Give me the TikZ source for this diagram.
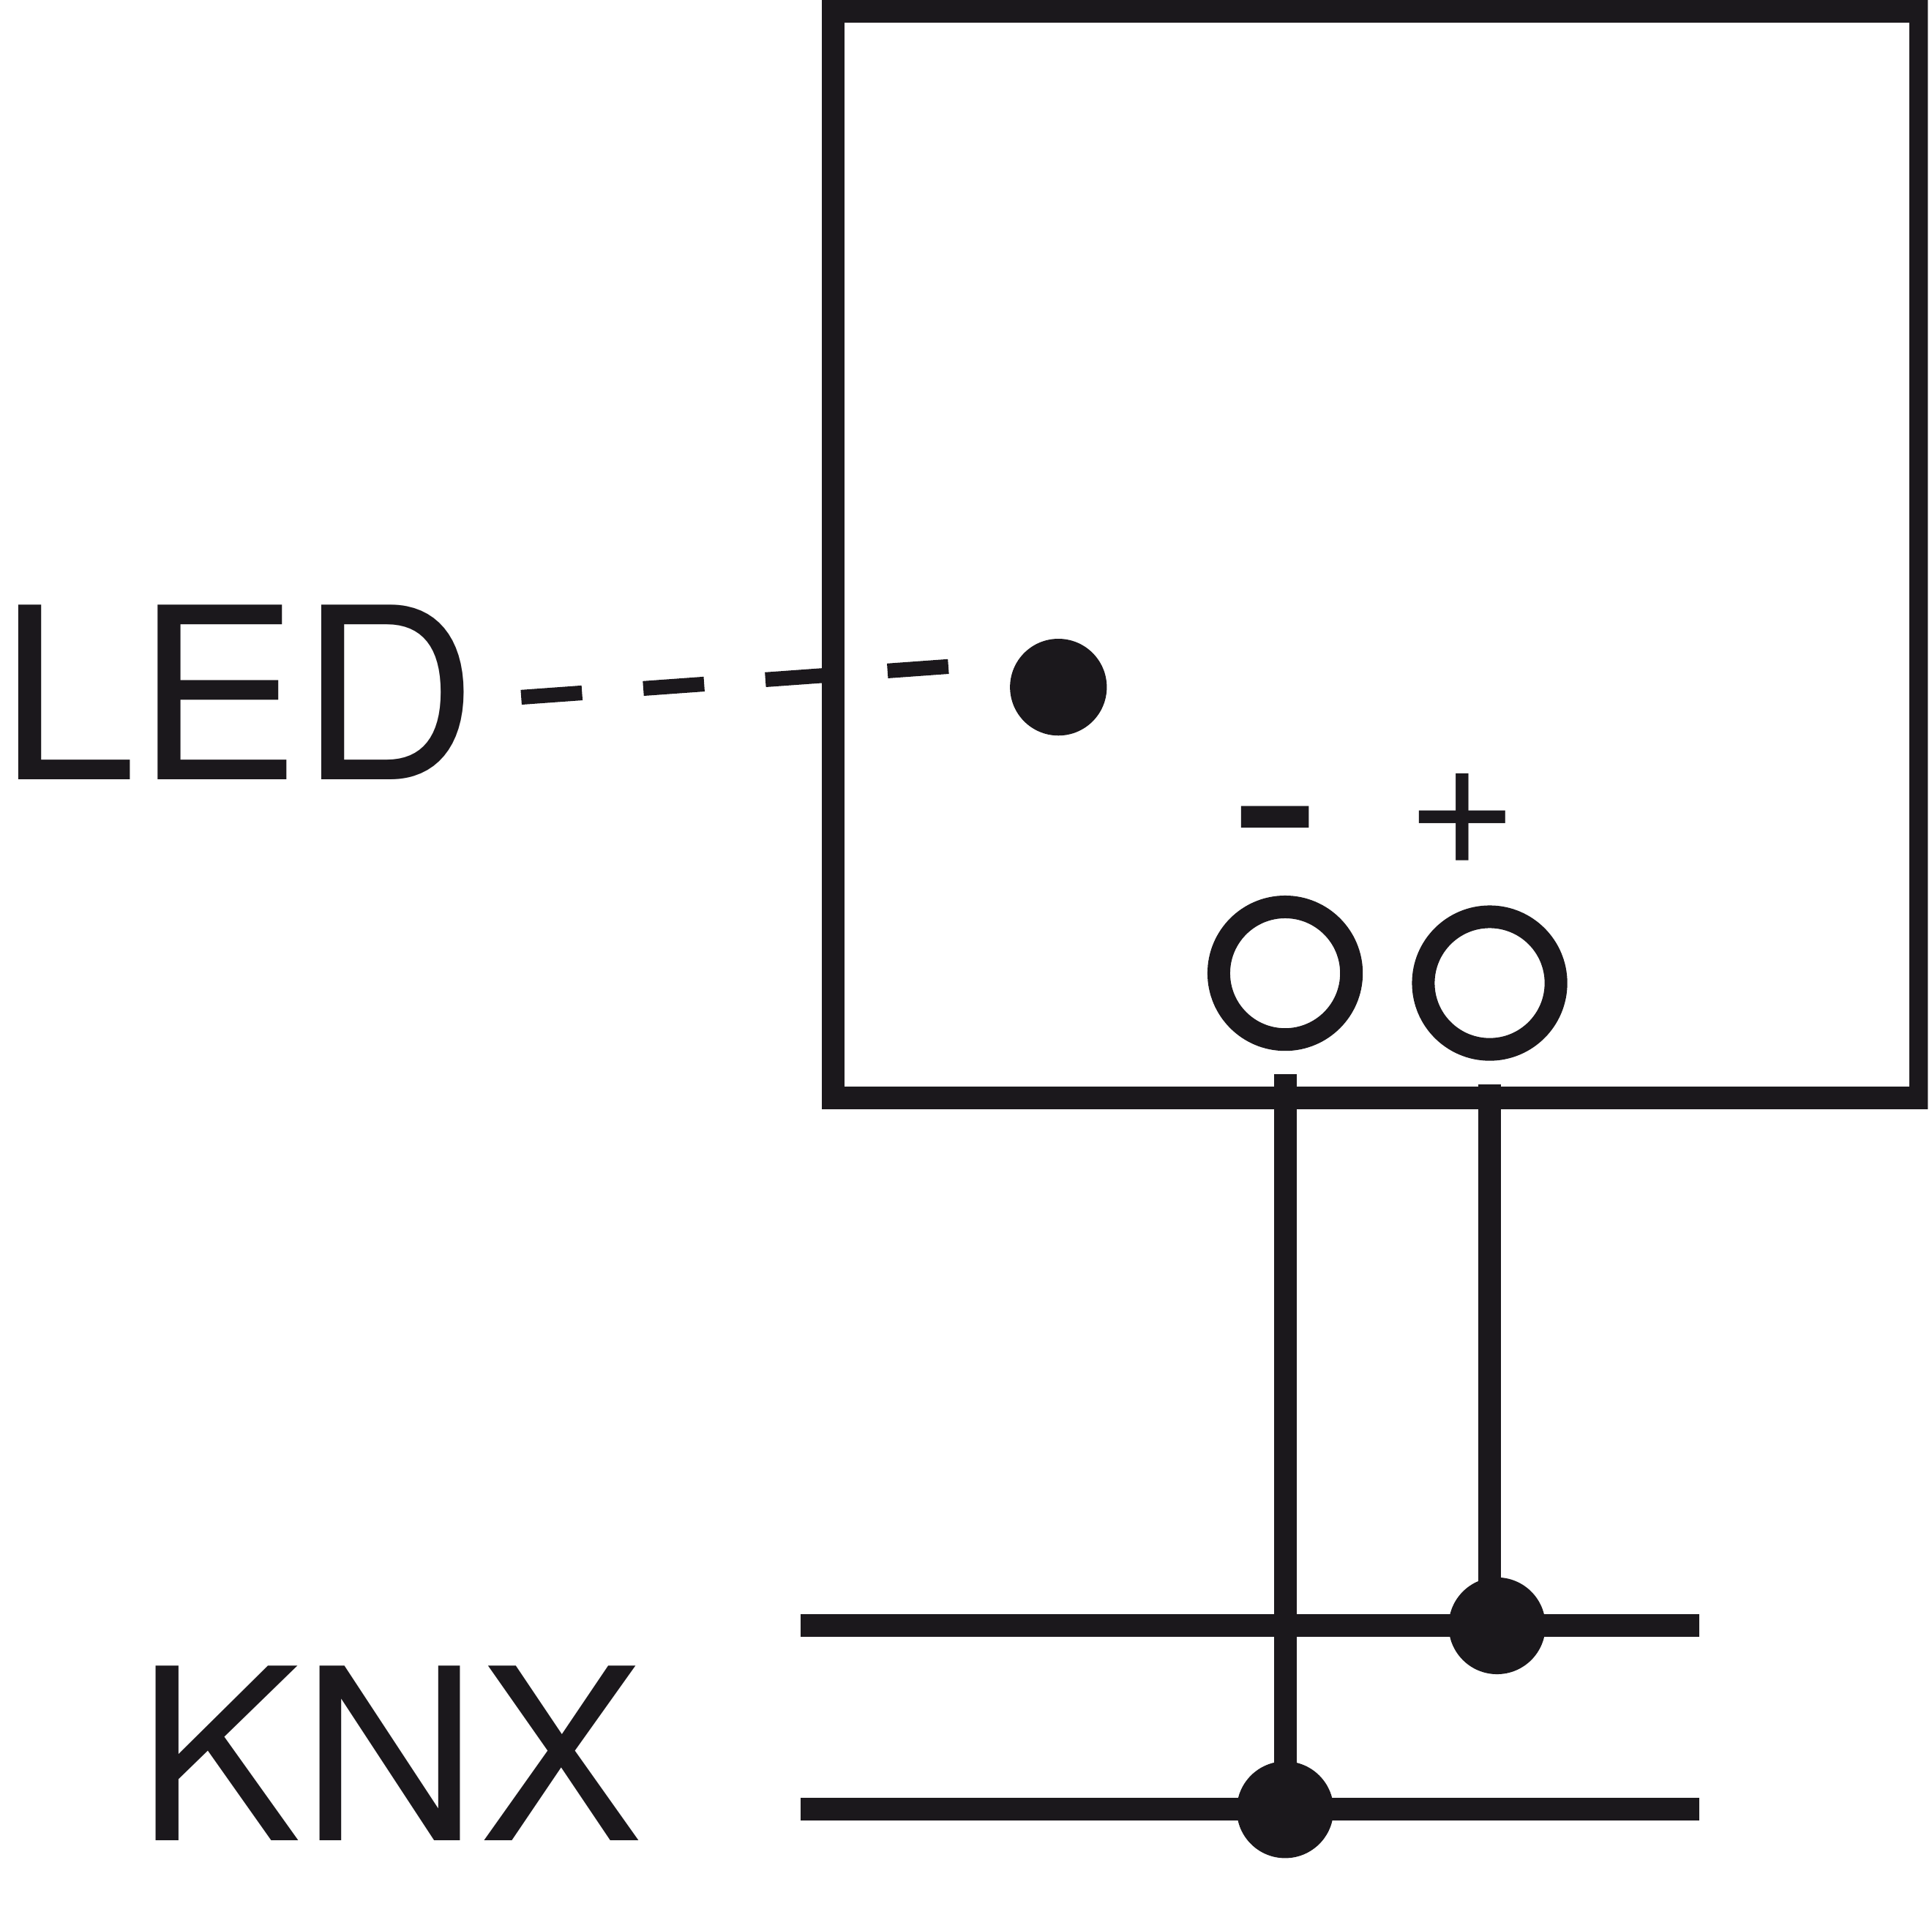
\documentclass[tikz,border=0pt]{standalone}
\usepackage{fontspec}
\setmainfont[FakeStretch=1.028]{TeX Gyre Heros}
\newfontfamily\signfont{Liberation Sans}
\definecolor{ink}{HTML}{1B181C}
\tikzset{
  x=0.01cm,y=-0.01cm,
  wire/.style={draw=ink,line width=0.184cm},
  thin wire/.style={draw=ink,line width=0.12cm},
  dot/.style={circle,fill=ink,minimum size=0.785cm,inner sep=0pt,outer sep=0pt},
  port/.style={circle,draw=ink,fill=white,line width=0.184cm,minimum size=1.076cm,inner sep=0pt,outer sep=0pt},
  lbl/.style={text=ink,inner sep=0pt,outer sep=0pt,anchor=base west,font=\fontsize{55.3pt}{60pt}\selectfont},
}
\begin{document}
\begin{tikzpicture}
\useasboundingbox (0,0) rectangle (1568,1558);
\begin{scope}
\clip (0,0) rectangle (1564.6,1558);
\draw[wire,miter limit=10] (676.4,9.2) rectangle (1558.6,891.5);
\end{scope}
\node[lbl] (led) at (-1,632.8) {LED};
\node[lbl] (knx) at (111,1493.8) {KNX};
\node[dot] (leddot) at (859,557.8) {};
\coordinate (ledA) at (423,566);
\coordinate (ledB) at (770,541);
\draw[thin wire,dash pattern=on 0.495cm off 0.498cm] (ledA) -- (ledB);
\node[lbl,font=\signfont\fontsize{64pt}{66pt}\selectfont] (minus) at (997.7,723.4) {-};
\node[lbl,font=\signfont\fontsize{41pt}{50pt}\selectfont] (plus) at (1145.1,711.4) {+};
\node[port] (p1) at (1043,790) {};
\node[port] (p2) at (1209,798) {};
\coordinate (b1a) at (650,1319.6);
\coordinate (b1b) at (1379,1319.6);
\coordinate (b2a) at (650,1468.6);
\coordinate (b2b) at (1379,1468.6);
\draw[wire] (b1a) -- (b1b);
\draw[wire] (b2a) -- (b2b);
\node[dot] (d1) at (1215,1319.7) {};
\node[dot] (d2) at (1043,1469) {};
\coordinate (s1) at (1043,872);
\coordinate (s2) at (1209,880);
\draw[wire] (s1) -- (d2.center);
\draw[wire] (s2) -- (1209,1319.5);
\end{tikzpicture}
\end{document}
